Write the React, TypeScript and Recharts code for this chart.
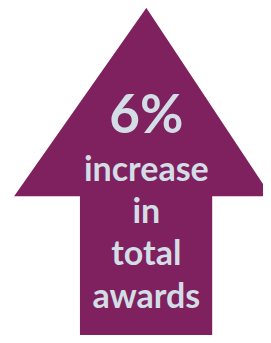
import { BarChart, Bar, XAxis, YAxis } from 'recharts';

const categories = ['awards'];
const values = [6];
const headline = '6%';
const words = ['increase', 'in', 'total', 'awards'];

const data = categories.map((c, i) => ({ name: c, value: values[i] }));

const ArrowShape = (props: any) => {
  const { x, y, width, height } = props;
  const cx = x + width * 0.54;
  const tipY = y + height * 0.023;
  const baseY = y + height * 0.572;
  const left = x + width * 0.052;
  const right = x + width;
  const sL = x + width * 0.295;
  const sR = x + width * 0.783;
  const bottom = y + height;
  const pts = [
    [cx, tipY], [right, baseY], [sR, baseY], [sR, bottom],
    [sL, bottom], [sL, baseY], [left, baseY],
  ].map((p) => p.join(',')).join(' ');
  return (
    <g>
      <polygon points={pts} fill="#7F215E" />
      <text x={cx} y={y + height * 0.388} textAnchor="middle" fill="#D3DDE6"
        fontFamily="Lato, sans-serif" fontWeight={700} fontSize={53}>{headline}</text>
      {words.map((w, i) => (
        <text key={w} x={cx} y={y + height * (0.528 + i * 0.123)} textAnchor="middle" fill="#D3DDE6"
          fontFamily="Lato, sans-serif" fontWeight={700} fontSize={34}>{w}</text>
      ))}
    </g>
  );
};

export default function App() {
  return (
    <div style={{ margin: -8, background: '#fff' }}>
      <BarChart width={271} height={343} data={data} margin={{ top: 0, right: 0, bottom: 0, left: 0 }} barCategoryGap={0}>
        <XAxis dataKey="name" hide />
        <YAxis hide domain={[0, 6]} />
        <Bar dataKey="value" shape={ArrowShape} isAnimationActive={false} />
      </BarChart>
    </div>
  );
}
